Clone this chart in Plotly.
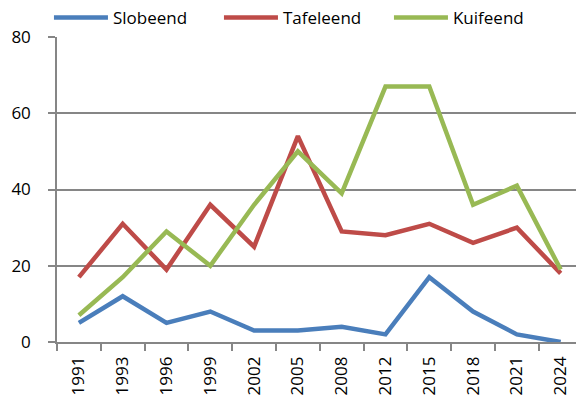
import plotly.graph_objects as go

years = ["1991", "1993", "1996", "1999", "2002", "2005", "2008", "2012", "2015", "2018", "2021", "2024"]
slobeend = [5, 12, 5, 8, 3, 3, 4, 2, 17, 8, 2, 0]
tafeleend = [17, 31, 19, 36, 25, 54, 29, 28, 31, 26, 30, 18]
kuifeend = [7, 17, 29, 20, 36, 50, 39, 67, 67, 36, 41, 19]

series = [
    ("Slobeend", slobeend, "#4a7ebb"),
    ("Tafeleend", tafeleend, "#be4b48"),
    ("Kuifeend", kuifeend, "#98b954"),
]

fig = go.Figure()
for name, vals, color in series:
    fig.add_trace(go.Scatter(
        x=years, y=vals, name=name, mode="lines",
        line=dict(color=color, width=4.5),
    ))

fig.update_layout(
    width=576, height=409,
    margin=dict(l=57, r=0, t=37, b=67, autoexpand=False),
    paper_bgcolor="white", plot_bgcolor="white",
    font=dict(family="Open Sans, Liberation Sans, sans-serif", size=17, color="black"),
    showlegend=True,
    legend=dict(
        orientation="h", x=0.085, y=1 - 18 / 409, xref="container", yref="container",
        xanchor="left", yanchor="middle",
        font=dict(size=17), entrywidth=101, entrywidthmode="pixels", itemwidth=54,
        bgcolor="rgba(0,0,0,0)", tracegroupgap=0,
    ),
    xaxis=dict(
        type="category", range=[-0.5, 11.35],
        showgrid=False, showline=True, linecolor="#868686", linewidth=1.5,
        ticks="outside", tickson="boundaries", ticklen=7, tickcolor="#868686", tickwidth=1.5,
        tickangle=-90, tickfont=dict(size=17), ticklabelstandoff=6,
    ),
    yaxis=dict(
        range=[0, 80], tickvals=[0, 20, 40, 60, 80],
        showgrid=True, gridcolor="#868686", gridwidth=1.5,
        showline=True, linecolor="#868686", linewidth=1.5,
        ticks="outside", ticklen=7, tickcolor="#868686", tickwidth=1.5,
        zeroline=False, tickfont=dict(size=17), ticklabelstandoff=14,
    ),
)

fig.write_html("out.html", config={"displayModeBar": False},
               post_script="document.body.style.margin='0';")
